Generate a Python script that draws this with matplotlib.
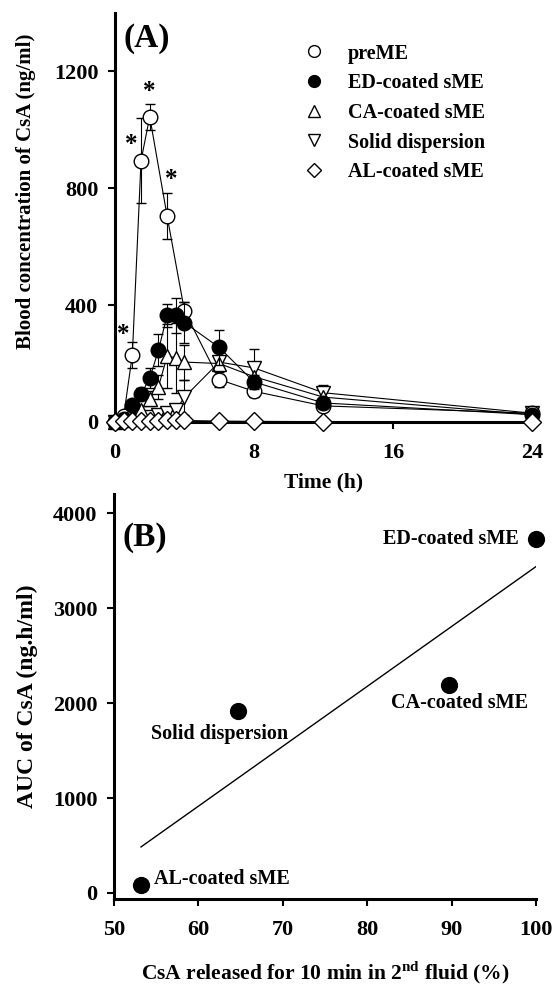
import numpy as np
import matplotlib.pyplot as plt
from matplotlib.lines import Line2D

plt.rcParams['font.family'] = ['Liberation Serif', 'DejaVu Serif']
plt.rcParams['font.weight'] = 'bold'
plt.rcParams['axes.labelweight'] = 'bold'
plt.rcParams['mathtext.fontset'] = 'custom'
plt.rcParams['mathtext.rm'] = 'Liberation Serif:bold'
plt.rcParams['mathtext.bf'] = 'Liberation Serif:bold'

# panel A: blood concentration profiles
t_pre = [0, 0.5, 1, 1.5, 2, 3, 4, 6, 8, 12, 24]
pre = [0, 20, 230, 895, 1045, 705, 380, 145, 105, 55, 30]
pre_err = [0, 0, 45, 145, 45, 78, 30, 25, 20, 15, 8]

t = [0, 0.5, 1, 1.5, 2, 2.5, 3, 3.5, 4, 6, 8, 12, 24]
ed = [0, 10, 58, 95, 150, 245, 365, 365, 340, 255, 137, 65, 25]
ed_err = [0, 0, 10, 20, 35, 55, 40, 60, 70, 60, 25, 15, 5]
ca = [0, 5, 15, 40, 80, 120, 225, 220, 205, 200, 155, 85, 25]
ca_err = [0, 0, 5, 15, 25, 40, 110, 120, 60, 40, 50, 25, 5]
sd = [0, 3, 8, 12, 18, 25, 30, 40, 85, 205, 185, 100, 30]
sd_err = [0, 0, 0, 5, 5, 10, 15, 20, 60, 45, 65, 25, 8]
al = [0, 2, 3, 3, 4, 4, 5, 5, 5, 3, 2, 1, 0]

star_t = [0.45, 0.95, 1.95, 3.25]
star_y = [300, 950, 1130, 830]

# panel B: AUC vs release
release = [53.2, 64.7, 89.7, 100.0]
auc = [81, 1919, 2193, 3726]
names = ['AL-coated sME', 'Solid dispersion', 'CA-coated sME', 'ED-coated sME']

fig = plt.figure(figsize=(5.56, 9.94), dpi=100)
axA = fig.add_axes([0.2068, 0.5755, 0.75, 0.4114])
axB = fig.add_axes([0.205, 0.0959, 0.759, 0.407])

ms = 10.5
lw = 0.8
kw = dict(color='black', lw=lw, capsize=3.5, elinewidth=lw, capthick=lw, clip_on=False)
axA.errorbar(t, al, fmt='-D', ms=ms * 0.85, mfc='white', mec='black', mew=1, zorder=5, **kw)
axA.errorbar(t, sd, yerr=sd_err, fmt='-v', ms=ms, mfc='white', mec='black', mew=1, zorder=3, **kw)
axA.errorbar(t, ca, yerr=ca_err, fmt='-^', ms=ms, mfc='white', mec='black', mew=1, zorder=3, **kw)
axA.errorbar(t, ed, yerr=ed_err, fmt='-o', ms=ms, mfc='black', mec='black', mew=1, zorder=4, **kw)
axA.errorbar(t_pre, pre, yerr=pre_err, fmt='-o', ms=ms, mfc='white', mec='black', mew=1, zorder=3, **kw)
for x, y in zip(star_t, star_y):
    axA.text(x, y, '*', fontsize=18, ha='center', va='center')

axA.set_xlim(0, 24)
axA.set_ylim(0, 1400)
axA.set_xticks([0, 8, 16, 24])
axA.set_yticks([0, 400, 800, 1200])
axA.set_xlabel('Time (h)', fontsize=15.5, labelpad=7)
axA.set_ylabel('Blood concentration of CsA (ng/ml)', fontsize=15)
axA.yaxis.set_label_coords(-0.19, 0.565)
axA.text(0.02, 0.975, '(A)', transform=axA.transAxes, fontsize=24, va='top', ha='left')

handles = [
    Line2D([], [], ls='none', marker='o', ms=8.5, mfc='white', mec='black'),
    Line2D([], [], ls='none', marker='o', ms=8.5, mfc='black', mec='black'),
    Line2D([], [], ls='none', marker='^', ms=8.5, mfc='white', mec='black'),
    Line2D([], [], ls='none', marker='v', ms=8.5, mfc='white', mec='black'),
    Line2D([], [], ls='none', marker='D', ms=7.5, mfc='white', mec='black'),
]
labels = ['preME', 'ED-coated sME', 'CA-coated sME', 'Solid dispersion', 'AL-coated sME']
axA.legend(handles, labels, loc='upper left', bbox_to_anchor=(0.43, 0.95), frameon=False,
           fontsize=14.5, handlelength=1.0, handletextpad=1.15, labelspacing=0.48,
           borderpad=0)

# panel B
axB.scatter(release, auc, s=130, color='black', zorder=3, clip_on=False)
slope, icpt = np.polyfit(release, auc, 1)
xs = np.array([min(release), max(release)])
axB.plot(xs, slope * xs + icpt, color='black', lw=1.0)
axB.text(98.0, auc[3], names[3], fontsize=14.5, ha='right', va='center')
axB.text(90.9, 2000, names[2], fontsize=14.5, ha='center', va='center')
axB.text(62.5, 1670, names[1], fontsize=14.5, ha='center', va='center')
axB.text(54.7, 150, names[0], fontsize=14.5, ha='left', va='center')
axB.text(0.02, 0.93, '(B)', transform=axB.transAxes, fontsize=24, va='top', ha='left')

axB.set_xlim(50, 100)
axB.set_ylim(-60, 4200)
axB.set_xticks([50, 60, 70, 80, 90, 100])
axB.set_yticks([0, 1000, 2000, 3000, 4000])
axB.set_xlabel('CsA released for 10 min in 2$^{\\mathrm{nd}}$ fluid (%)', fontsize=15.5, labelpad=14)
axB.set_ylabel('AUC of CsA (ng.h/ml)', fontsize=17)
axB.yaxis.set_label_coords(-0.18, 0.5)

for ax in (axA, axB):
    ax.spines['top'].set_visible(False)
    ax.spines['right'].set_visible(False)
    ax.spines['left'].set_linewidth(2.2)
    ax.spines['bottom'].set_linewidth(2.2)
    ax.tick_params(direction='out', length=5, width=1.5, labelsize=16)
    ax.tick_params(axis='x', pad=10)
    ax.tick_params(axis='y', pad=7)
    for lab in ax.get_xticklabels() + ax.get_yticklabels():
        lab.set_fontweight('bold')

fig.savefig('out.png', dpi=100)
